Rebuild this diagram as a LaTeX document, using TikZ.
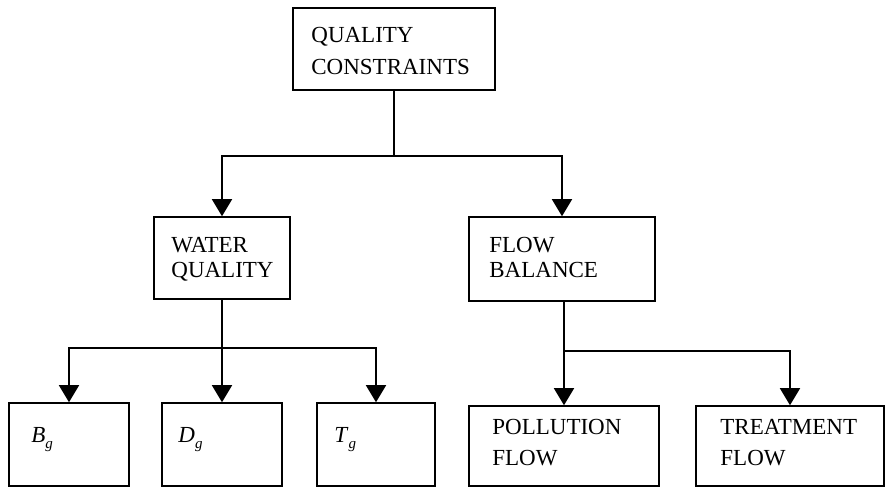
\documentclass[tikz,border=0pt]{standalone}
\usepackage{fontspec}
\setmainfont{Liberation Serif}
\usetikzlibrary{arrows.meta}
\newcommand{\subg}{\raisebox{-6pt}{\fontsize{15}{15}\selectfont\textit{g}}}
\begin{document}
\begin{tikzpicture}[x=1pt,y=-1pt,
  box/.style={draw, line width=1.6pt, inner sep=0pt, rectangle},
  lbl/.style={anchor=north west, inner sep=0pt, align=left,
              font=\fontsize{23}{#1}\selectfont},
  lbl/.default=25,
  link/.style={line width=1.6pt},
  arr/.style={line width=1.6pt, -{Triangle[width=20pt,length=17pt]}}]
\useasboundingbox (0,0) rectangle (886,488);

% boxes
\node[box, minimum width=202pt, minimum height=82pt] (top) at (394,49) {};
\node[box, minimum width=136pt, minimum height=82pt] (wq)  at (222,258) {};
\node[box, minimum width=186pt, minimum height=84pt] (fb)  at (562,259) {};
\node[box, minimum width=120pt, minimum height=83pt] (bg)  at (69,444.5) {};
\node[box, minimum width=120pt, minimum height=83pt] (dg)  at (222,444.5) {};
\node[box, minimum width=118pt, minimum height=83pt] (tg)  at (376,444.5) {};
\node[box, minimum width=190pt, minimum height=80pt] (pf)  at (564,446) {};
\node[box, minimum width=188pt, minimum height=80pt] (tf)  at (790,446) {};

% labels, set in from each box's top-left corner
\node[lbl=32] (top-t) at ([shift={(19,20)}]top.north west) {QUALITY\\CONSTRAINTS};
\node[lbl] (wq-t) at ([shift={(18,21)}]wq.north west) {WATER\\QUALITY};
\node[lbl] (fb-t) at ([shift={(21,21)}]fb.north west) {FLOW\\BALANCE};
\node[lbl] (bg-t) at ([shift={(23,25)}]bg.north west) {\textit{B}\subg};
\node[lbl] (dg-t) at ([shift={(17,25)}]dg.north west) {\textit{D}\subg};
\node[lbl] (tg-t) at ([shift={(18,25)}]tg.north west) {\textit{T}\subg};
\node[lbl=31] (pf-t) at ([shift={(24,14)}]pf.north west) {POLLUTION\\FLOW};
\node[lbl=31] (tf-t) at ([shift={(25,14)}]tf.north west) {TREATMENT\\FLOW};

% junctions
\coordinate (j1) at (394,156);
\coordinate (j2) at (222,348);
\coordinate (j3) at (564,351);

% connectors
\draw[link] (top.south) -- (j1);
\draw[arr] (j1) -| (wq.north);
\draw[arr] (j1) -| (fb.north);

\draw[link] (wq.south) -- (j2);
\draw[arr] (j2) -| (bg.north);
\draw[arr] (j2) -- (dg.north);
\draw[arr] (j2) -| (tg.north);

\draw[arr] (pf.north |- fb.south) -- (pf.north);
\draw[arr] (j3) -| (tf.north);
\end{tikzpicture}
\end{document}
